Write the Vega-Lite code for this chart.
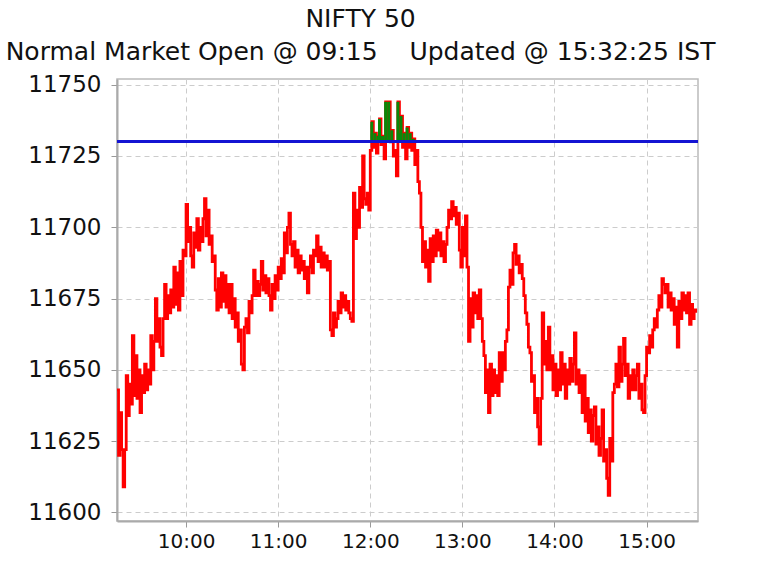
{
"$schema": "https://vega.github.io/schema/vega-lite/v6.json",
"width": 581,
"height": 442,
"autosize": {"type": "none"},
"padding": {"left": 117, "top": 79, "right": 64, "bottom": 49},
"background": "white",
"title": {"text": "NIFTY 50", "subtitle": "Normal Market Open @ 09:15\u00a0\u00a0\u00a0\u00a0Updated @ 15:32:25 IST", "anchor": "middle", "frame": "bounds", "dx": -4, "font": "DejaVu Sans", "fontSize": 25, "fontWeight": "normal", "color": "#111", "subtitleFont": "DejaVu Sans", "subtitleFontSize": 25, "subtitleColor": "#111", "subtitlePadding": 8, "offset": 9},
"config": {
  "view": {"stroke": "#bbb", "strokeWidth": 1.5},
  "axis": {"title": null, "labelFont": "DejaVu Sans", "labelColor": "#111", "tickColor": "#999", "tickSize": 6, "domainColor": "#aaa", "domainWidth": 2, "gridColor": "#ccc", "gridDash": [5, 4], "gridWidth": 1}
},
"data": {"format": {"parse": {"t": "date:'%H:%M'"}}, "values": [
{"t":"09:15","v":11643},{"t":"09:16","v":11620},{"t":"09:17","v":11635},{"t":"09:18","v":11622},{"t":"09:19","v":11609},
{"t":"09:20","v":11622},{"t":"09:21","v":11648},{"t":"09:22","v":11634},{"t":"09:23","v":11645},{"t":"09:24","v":11638},
{"t":"09:25","v":11662},{"t":"09:26","v":11641},{"t":"09:27","v":11655},{"t":"09:28","v":11640},{"t":"09:29","v":11650},
{"t":"09:30","v":11635},{"t":"09:31","v":11648},{"t":"09:32","v":11642},{"t":"09:33","v":11652},{"t":"09:34","v":11643},
{"t":"09:35","v":11650},{"t":"09:36","v":11645},{"t":"09:37","v":11662},{"t":"09:38","v":11650},{"t":"09:39","v":11660},
{"t":"09:40","v":11675},{"t":"09:41","v":11660},{"t":"09:42","v":11668},{"t":"09:43","v":11658},{"t":"09:44","v":11655},
{"t":"09:45","v":11668},{"t":"09:46","v":11680},{"t":"09:47","v":11668},{"t":"09:48","v":11676},{"t":"09:49","v":11670},
{"t":"09:50","v":11678},{"t":"09:51","v":11672},{"t":"09:52","v":11686},{"t":"09:53","v":11673},{"t":"09:54","v":11684},
{"t":"09:55","v":11671},{"t":"09:56","v":11688},{"t":"09:57","v":11676},{"t":"09:58","v":11692},{"t":"09:59","v":11690},
{"t":"10:00","v":11708},{"t":"10:01","v":11695},{"t":"10:02","v":11700},{"t":"10:03","v":11690},{"t":"10:04","v":11686},
{"t":"10:05","v":11698},{"t":"10:06","v":11693},{"t":"10:07","v":11703},{"t":"10:08","v":11692},{"t":"10:09","v":11700},
{"t":"10:10","v":11695},{"t":"10:11","v":11703},{"t":"10:12","v":11710},{"t":"10:13","v":11697},{"t":"10:14","v":11706},
{"t":"10:15","v":11694},{"t":"10:16","v":11697},{"t":"10:17","v":11688},{"t":"10:18","v":11690},{"t":"10:19","v":11678},
{"t":"10:20","v":11671},{"t":"10:21","v":11682},{"t":"10:22","v":11672},{"t":"10:23","v":11684},{"t":"10:24","v":11674},
{"t":"10:25","v":11683},{"t":"10:26","v":11672},{"t":"10:27","v":11680},{"t":"10:28","v":11670},{"t":"10:29","v":11680},
{"t":"10:30","v":11668},{"t":"10:31","v":11675},{"t":"10:32","v":11665},{"t":"10:33","v":11670},{"t":"10:34","v":11660},
{"t":"10:35","v":11664},{"t":"10:36","v":11652},{"t":"10:37","v":11650},{"t":"10:38","v":11665},{"t":"10:39","v":11668},
{"t":"10:40","v":11663},{"t":"10:41","v":11674},{"t":"10:42","v":11670},{"t":"10:43","v":11676},{"t":"10:44","v":11685},
{"t":"10:45","v":11676},{"t":"10:46","v":11681},{"t":"10:47","v":11676},{"t":"10:48","v":11680},{"t":"10:49","v":11688},
{"t":"10:50","v":11678},{"t":"10:51","v":11683},{"t":"10:52","v":11677},{"t":"10:53","v":11682},{"t":"10:54","v":11676},
{"t":"10:55","v":11671},{"t":"10:56","v":11680},{"t":"10:57","v":11675},{"t":"10:58","v":11683},{"t":"10:59","v":11678},
{"t":"11:00","v":11686},{"t":"11:01","v":11682},{"t":"11:02","v":11689},{"t":"11:03","v":11684},{"t":"11:04","v":11698},
{"t":"11:05","v":11691},{"t":"11:06","v":11700},{"t":"11:07","v":11705},{"t":"11:08","v":11694},{"t":"11:09","v":11690},
{"t":"11:10","v":11695},{"t":"11:11","v":11686},{"t":"11:12","v":11692},{"t":"11:13","v":11684},{"t":"11:14","v":11690},
{"t":"11:15","v":11685},{"t":"11:16","v":11688},{"t":"11:17","v":11682},{"t":"11:18","v":11686},{"t":"11:19","v":11677},
{"t":"11:20","v":11686},{"t":"11:21","v":11690},{"t":"11:22","v":11684},{"t":"11:23","v":11692},{"t":"11:24","v":11690},
{"t":"11:25","v":11697},{"t":"11:26","v":11688},{"t":"11:27","v":11693},{"t":"11:28","v":11686},{"t":"11:29","v":11691},
{"t":"11:30","v":11686},{"t":"11:31","v":11690},{"t":"11:32","v":11685},{"t":"11:33","v":11688},{"t":"11:34","v":11664},
{"t":"11:35","v":11662},{"t":"11:36","v":11670},{"t":"11:37","v":11665},{"t":"11:38","v":11668},{"t":"11:39","v":11674},
{"t":"11:40","v":11670},{"t":"11:41","v":11677},{"t":"11:42","v":11672},{"t":"11:43","v":11676},{"t":"11:44","v":11671},
{"t":"11:45","v":11674},{"t":"11:46","v":11670},{"t":"11:47","v":11668},{"t":"11:48","v":11667},{"t":"11:49","v":11712},
{"t":"11:50","v":11696},{"t":"11:51","v":11706},{"t":"11:52","v":11700},{"t":"11:53","v":11714},{"t":"11:54","v":11707},
{"t":"11:55","v":11725},{"t":"11:56","v":11710},{"t":"11:57","v":11708},{"t":"11:58","v":11712},{"t":"11:59","v":11706},
{"t":"12:00","v":11727},{"t":"12:01","v":11737},{"t":"12:02","v":11728},{"t":"12:03","v":11733},{"t":"12:04","v":11726},
{"t":"12:05","v":11732},{"t":"12:06","v":11738},{"t":"12:07","v":11729},{"t":"12:08","v":11732},{"t":"12:09","v":11724},
{"t":"12:10","v":11744},{"t":"12:11","v":11731},{"t":"12:12","v":11744},{"t":"12:13","v":11730},{"t":"12:14","v":11734},
{"t":"12:15","v":11725},{"t":"12:16","v":11727},{"t":"12:17","v":11718},{"t":"12:18","v":11744},{"t":"12:19","v":11733},
{"t":"12:20","v":11739},{"t":"12:21","v":11728},{"t":"12:22","v":11733},{"t":"12:23","v":11724},{"t":"12:24","v":11735},
{"t":"12:25","v":11728},{"t":"12:26","v":11733},{"t":"12:27","v":11727},{"t":"12:28","v":11731},{"t":"12:29","v":11722},
{"t":"12:30","v":11727},{"t":"12:31","v":11716},{"t":"12:32","v":11712},{"t":"12:33","v":11700},{"t":"12:34","v":11688},
{"t":"12:35","v":11695},{"t":"12:36","v":11686},{"t":"12:37","v":11692},{"t":"12:38","v":11681},{"t":"12:39","v":11696},
{"t":"12:40","v":11688},{"t":"12:41","v":11697},{"t":"12:42","v":11690},{"t":"12:43","v":11699},{"t":"12:44","v":11692},
{"t":"12:45","v":11698},{"t":"12:46","v":11690},{"t":"12:47","v":11695},{"t":"12:48","v":11688},{"t":"12:49","v":11694},
{"t":"12:50","v":11700},{"t":"12:51","v":11706},{"t":"12:52","v":11703},{"t":"12:53","v":11709},{"t":"12:54","v":11704},
{"t":"12:55","v":11707},{"t":"12:56","v":11701},{"t":"12:57","v":11705},{"t":"12:58","v":11692},{"t":"12:59","v":11686},
{"t":"13:00","v":11700},{"t":"13:01","v":11690},{"t":"13:02","v":11704},{"t":"13:03","v":11686},{"t":"13:04","v":11660},
{"t":"13:05","v":11675},{"t":"13:06","v":11665},{"t":"13:07","v":11677},{"t":"13:08","v":11670},{"t":"13:09","v":11676},
{"t":"13:10","v":11668},{"t":"13:11","v":11678},{"t":"13:12","v":11668},{"t":"13:13","v":11660},{"t":"13:14","v":11655},
{"t":"13:15","v":11642},{"t":"13:16","v":11650},{"t":"13:17","v":11635},{"t":"13:18","v":11652},{"t":"13:19","v":11641},
{"t":"13:20","v":11650},{"t":"13:21","v":11642},{"t":"13:22","v":11648},{"t":"13:23","v":11641},{"t":"13:24","v":11656},
{"t":"13:25","v":11646},{"t":"13:26","v":11656},{"t":"13:27","v":11650},{"t":"13:28","v":11660},{"t":"13:29","v":11664},
{"t":"13:30","v":11679},{"t":"13:31","v":11685},{"t":"13:32","v":11680},{"t":"13:33","v":11691},{"t":"13:34","v":11694},
{"t":"13:35","v":11687},{"t":"13:36","v":11690},{"t":"13:37","v":11684},{"t":"13:38","v":11687},{"t":"13:39","v":11682},
{"t":"13:40","v":11676},{"t":"13:41","v":11670},{"t":"13:42","v":11666},{"t":"13:43","v":11658},{"t":"13:44","v":11656},
{"t":"13:45","v":11646},{"t":"13:46","v":11648},{"t":"13:47","v":11635},{"t":"13:48","v":11640},{"t":"13:49","v":11630},
{"t":"13:50","v":11624},{"t":"13:51","v":11640},{"t":"13:52","v":11670},{"t":"13:53","v":11652},{"t":"13:54","v":11660},
{"t":"13:55","v":11650},{"t":"13:56","v":11665},{"t":"13:57","v":11650},{"t":"13:58","v":11655},{"t":"13:59","v":11643},
{"t":"14:00","v":11652},{"t":"14:01","v":11641},{"t":"14:02","v":11650},{"t":"14:03","v":11643},{"t":"14:04","v":11656},
{"t":"14:05","v":11645},{"t":"14:06","v":11652},{"t":"14:07","v":11640},{"t":"14:08","v":11650},{"t":"14:09","v":11645},
{"t":"14:10","v":11654},{"t":"14:11","v":11646},{"t":"14:12","v":11652},{"t":"14:13","v":11663},{"t":"14:14","v":11645},
{"t":"14:15","v":11650},{"t":"14:16","v":11642},{"t":"14:17","v":11648},{"t":"14:18","v":11635},{"t":"14:19","v":11648},
{"t":"14:20","v":11632},{"t":"14:21","v":11640},{"t":"14:22","v":11628},{"t":"14:23","v":11636},{"t":"14:24","v":11625},
{"t":"14:25","v":11634},{"t":"14:26","v":11637},{"t":"14:27","v":11624},{"t":"14:28","v":11630},{"t":"14:29","v":11620},
{"t":"14:30","v":11626},{"t":"14:31","v":11636},{"t":"14:32","v":11618},{"t":"14:33","v":11622},{"t":"14:34","v":11612},
{"t":"14:35","v":11606},{"t":"14:36","v":11626},{"t":"14:37","v":11618},{"t":"14:38","v":11642},{"t":"14:39","v":11645},
{"t":"14:40","v":11652},{"t":"14:41","v":11644},{"t":"14:42","v":11658},{"t":"14:43","v":11646},{"t":"14:44","v":11652},
{"t":"14:45","v":11661},{"t":"14:46","v":11648},{"t":"14:47","v":11652},{"t":"14:48","v":11640},{"t":"14:49","v":11648},
{"t":"14:50","v":11643},{"t":"14:51","v":11650},{"t":"14:52","v":11643},{"t":"14:53","v":11648},{"t":"14:54","v":11652},
{"t":"14:55","v":11640},{"t":"14:56","v":11645},{"t":"14:57","v":11636},{"t":"14:58","v":11635},{"t":"14:59","v":11648},
{"t":"15:00","v":11658},{"t":"15:01","v":11656},{"t":"15:02","v":11662},{"t":"15:03","v":11658},{"t":"15:04","v":11664},
{"t":"15:05","v":11668},{"t":"15:06","v":11665},{"t":"15:07","v":11671},{"t":"15:08","v":11676},{"t":"15:09","v":11672},
{"t":"15:10","v":11682},{"t":"15:11","v":11680},{"t":"15:12","v":11677},{"t":"15:13","v":11680},{"t":"15:14","v":11672},
{"t":"15:15","v":11677},{"t":"15:16","v":11671},{"t":"15:17","v":11675},{"t":"15:18","v":11666},{"t":"15:19","v":11672},
{"t":"15:20","v":11658},{"t":"15:21","v":11674},{"t":"15:22","v":11668},{"t":"15:23","v":11677},{"t":"15:24","v":11671},
{"t":"15:25","v":11676},{"t":"15:26","v":11670},{"t":"15:27","v":11677},{"t":"15:28","v":11666},{"t":"15:29","v":11673},
{"t":"15:30","v":11668},{"t":"15:31","v":11671},{"t":"15:32","v":11670}
]},
"layer": [
  {
    "mark": {"type": "line", "color": "#ff0000", "strokeWidth": 2.8, "interpolate": "step-after"},
    "encoding": {
      "x": {"field": "t", "type": "temporal",
        "scale": {"domain": [{"year": 1900, "month": 1, "date": 1, "hours": 9, "minutes": 15}, {"year": 1900, "month": 1, "date": 1, "hours": 15, "minutes": 33, "seconds": 30}]},
        "axis": {"format": "%H:%M", "labelFontSize": 20, "labelPadding": 4,
          "values": [{"year": 1900, "month": 1, "date": 1, "hours": 10}, {"year": 1900, "month": 1, "date": 1, "hours": 11}, {"year": 1900, "month": 1, "date": 1, "hours": 12}, {"year": 1900, "month": 1, "date": 1, "hours": 13}, {"year": 1900, "month": 1, "date": 1, "hours": 14}, {"year": 1900, "month": 1, "date": 1, "hours": 15}]}},
      "y": {"field": "v", "type": "quantitative",
        "scale": {"domain": [11597, 11752], "zero": false, "nice": false},
        "axis": {"values": [11600, 11625, 11650, 11675, 11700, 11725, 11750], "labelFontSize": 23, "labelPadding": 10, "format": "d"}}
    }
  },
  {
    "transform": [{"filter": "datum.v > 11730"}],
    "mark": {"type": "rule", "color": "#0a880a", "strokeWidth": 3},
    "encoding": {
      "x": {"field": "t", "type": "temporal"},
      "y": {"field": "v", "type": "quantitative"},
      "y2": {"datum": 11730}
    }
  },
  {
    "mark": {"type": "rule", "color": "#1414d2", "strokeWidth": 2},
    "encoding": {"y": {"datum": 11730}}
  }
]
}
